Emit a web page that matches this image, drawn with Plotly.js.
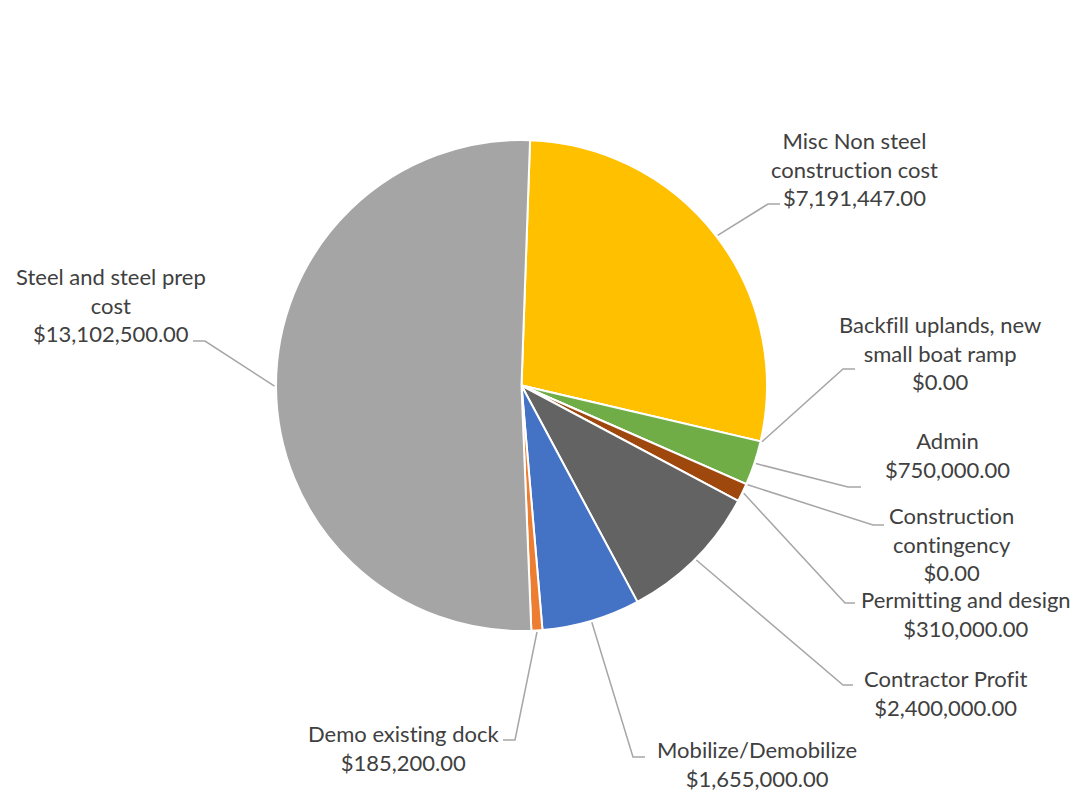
<!DOCTYPE html>
<html><head><meta charset="utf-8">
<script src="https://cdn.plot.ly/plotly-3.0.1.min.js"></script>
<style>html,body{margin:0;padding:0;background:#fff}#chart{width:1078px;height:792px}text{font-variant-ligatures:none;font-feature-settings:"liga" 0,"clig" 0}</style>
</head><body><div id="chart"></div>
<script>
const categories = ["Misc Non steel construction cost","Backfill uplands, new small boat ramp","Admin","Construction contingency","Permitting and design","Contractor Profit","Mobilize/Demobilize","Demo existing dock","Steel and steel prep cost"];
const labelText = ["Misc Non steel<br>construction cost","Backfill uplands, new<br>small boat ramp","Admin","Construction<br>contingency","Permitting and design","Contractor Profit","Mobilize/Demobilize","Demo existing dock","Steel and steel prep<br>cost"];
const costs = [7191447,0,750000,0,310000,2400000,1655000,185200,13102500];
const sliceColors = ["#FFC000","#5B9BD5","#70AD47","#264478","#9E480E","#636363","#4472C4","#ED7D31","#A5A5A5"];

const W=1078,H=792;
const CX=521.5, CY=385.5, R=245.5, ROT=2;
// label layout: [labelCenterX, labelMiddleY, elbowX, elbowY, endX]
const labelLayout = [
 [854,169.5,768,204,780],
 [940,352.5,843,369,855],
 [947,454.5,848,487,861],
 [951,544,873,525,884],
 [966,614,845,603,855],
 [945.5,693,843,685,853],
 [757,764,633,757,645],
 [403,748,515,740,503],
 [111,305,205,341,193]
];

const fmt = v => '$' + v.toLocaleString('en-US',{minimumFractionDigits:2,maximumFractionDigits:2});
const px = x => x/W, py = y => 1 - y/H;
const total = costs.reduce((a,b)=>a+b,0);

const shapes = [], annotations = [];
let cum = 0;
costs.forEach((v,i)=>{
  const a = (ROT + 360*(cum + v/2)/total) * Math.PI/180;
  cum += v;
  const sx = CX + (R+1.5)*Math.sin(a), sy = CY - (R+1.5)*Math.cos(a);
  const L = labelLayout[i];
  shapes.push({type:'path', xref:'paper', yref:'paper',
    path:`M ${px(sx)},${py(sy)} L ${px(L[2])},${py(L[3])} L ${px(L[4])},${py(L[3])}`,
    line:{color:'#A6A6A6', width:1.5}});
  annotations.push({xref:'paper', yref:'paper', x:px(L[0]), y:py(L[1]),
    xanchor:'center', yanchor:'middle', showarrow:false, align:'center',
    text: labelText[i] + '<br>' + fmt(v),
    font:{family:'Lato, "Open Sans", sans-serif', size:22, color:'#404040'}});
});

const trace = {
  type:'pie', labels:categories, values:costs, sort:false, direction:'clockwise',
  rotation:ROT, textinfo:'none', hoverinfo:'skip',
  marker:{colors:sliceColors, line:{color:'#FFFFFF', width:2}},
  domain:{x:[(CX-R)/W,(CX+R)/W], y:[1-(CY+R)/H, 1-(CY-R)/H]}
};

Plotly.newPlot('chart',[trace],{
  width:W, height:H, showlegend:false, margin:{l:0,r:0,t:0,b:0},
  paper_bgcolor:'#FFFFFF', plot_bgcolor:'#FFFFFF',
  shapes:shapes, annotations:annotations
},{staticPlot:true, displayModeBar:false});
</script></body></html>
